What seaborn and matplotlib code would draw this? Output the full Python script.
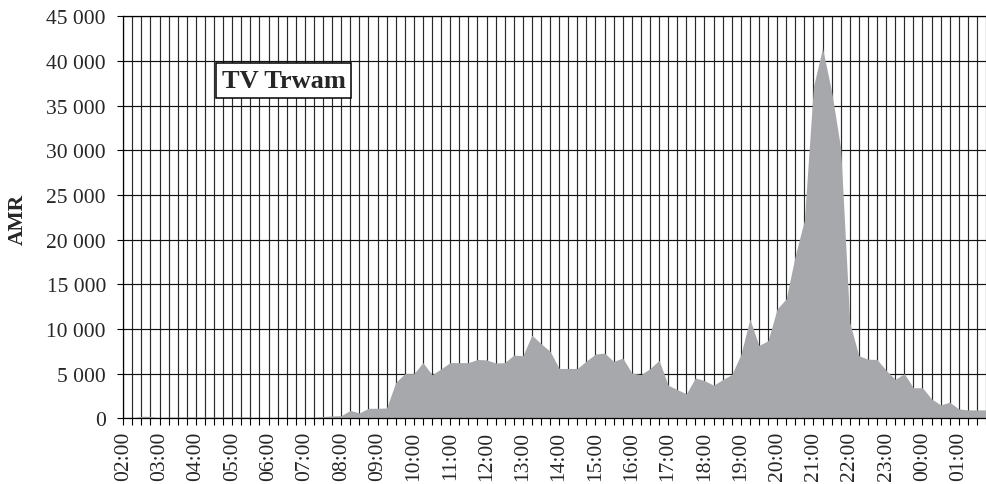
import matplotlib
matplotlib.use("Agg")
from matplotlib import pyplot as plt
from matplotlib.ticker import FuncFormatter
import pandas as pd
import seaborn as sns

# quarter-hour slots from 02:00 to 01:45
hours = ["02", "03", "04", "05", "06", "07", "08", "09", "10", "11", "12", "13",
         "14", "15", "16", "17", "18", "19", "20", "21", "22", "23", "00", "01"]
slots = [h + ":" + m for h in hours for m in ["00", "15", "30", "45"]]

amr = [110, 20, 220, 220, 0, 120, 130, 130,
       130, 130, 130, 130, 130, 130, 130, 0,
       0, 0, 0, 20, 70, 110, 190, 260,
       300, 880, 600, 1120, 1120, 1150, 4000, 5000,
       5000, 6230, 4880, 5540, 6230, 6230, 6230, 6580,
       6540, 6190, 6230, 7080, 7000, 9310, 8350, 7500,
       5580, 5580, 5580, 6420, 7190, 7300, 6370, 6740,
       5070, 4890, 5560, 6480, 3700, 3220, 2740, 4520,
       4220, 3700, 4330, 4890, 7110, 11100, 8150, 8690,
       12250, 13370, 18230, 22160, 37140, 41440, 36580, 30210,
       10700, 6990, 6620, 6580, 5380, 4360, 5000, 3420,
       3420, 2180, 1500, 1800, 1050, 940, 940, 940]

channel = "TV Trwam"

df = pd.DataFrame({"slot": range(len(slots)), "label": slots, "AMR": amr})

sns.set_style("white")
plt.rcParams["font.family"] = ["Liberation Serif", "DejaVu Serif"]

fig = plt.figure(figsize=(9.86, 4.85), dpi=100)
ax = fig.add_axes([0.125, 0.1355, 0.875, 0.8288])

fill_col = "#a7a8ab"
sns.lineplot(data=df, x="slot", y="AMR", color=fill_col, lw=0, ax=ax)
ax.fill_between(df["slot"], df["AMR"], 0, color=fill_col, lw=0, zorder=2)

ax.set_xlim(0, 94.28)
ax.set_ylim(0, 45000)
ax.set_yticks(range(0, 45001, 5000))
ax.yaxis.set_major_formatter(FuncFormatter(lambda v, p: f"{int(v):,}".replace(",", " ")))

ax.set_xticks(df["slot"])
ax.set_xticklabels([lab if i % 4 == 0 else "" for i, lab in enumerate(df["label"])],
                   rotation=90)

ax.set_axisbelow(True)
ax.yaxis.grid(True, color="#111111", lw=0.85)
ax.xaxis.grid(True, color="#2a2a2a", lw=0.85)
ax.tick_params(axis="x", direction="out", length=5, width=0.8, color="black",
               labelsize=15.5, pad=4, bottom=True)
ax.tick_params(axis="y", direction="out", length=4.5, width=0.8, color="black",
               labelsize=15.5, pad=8, left=True)

for side in ["left", "bottom", "top"]:
    ax.spines[side].set_color("black")
    ax.spines[side].set_linewidth(0.9)
ax.spines["right"].set_visible(False)

ax.set_xlabel("")
ax.set_ylabel("")
fig.text(17.5 / 986, 1 - 219.5 / 485, "AMR", rotation=90, ha="center", va="center",
         fontsize=15.5, fontweight="bold")

ax.text(0.1857, 0.841, channel, transform=ax.transAxes, ha="center", va="center",
        fontsize=19, fontweight="bold", zorder=5,
        bbox=dict(boxstyle="square,pad=0.22", facecolor="white", edgecolor="black", lw=1.1))

fig.savefig("out.png", dpi=100)
